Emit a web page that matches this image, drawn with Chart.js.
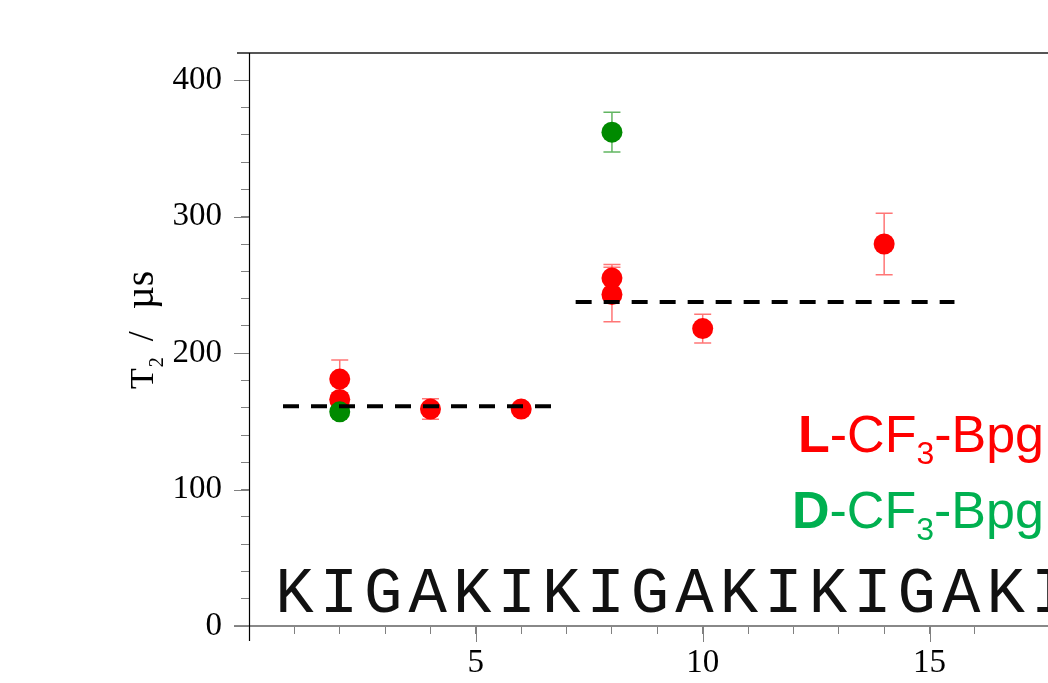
<!DOCTYPE html>
<html>
<head>
<meta charset="utf-8">
<script src="https://cdn.jsdelivr.net/npm/chart.js@4.4.0/dist/chart.umd.min.js"></script>
<style>
  html, body { margin: 0; padding: 0; background: #fff; overflow: hidden; }
  canvas { display: block; }
</style>
</head>
<body>
<canvas id="chart" width="1048" height="683"></canvas>
<script>
// T2 relaxation per labelled position
const lPos = [2, 2, 4, 6, 8, 8, 10, 14];
const lT2 = [181, 166, 159, 159, 255, 243, 218, 280];
const lErr = [14, 5, 7.5, 3, 10, 20, 10.5, 22.5];
const dPos = [2, 8];
const dT2 = [157, 362];
const dErr = [4, 14.5];

// dashed averages
const fit1X = [0.75, 6.7];
const fit1Y = [161, 161];
const fit2X = [7.2, 15.55];
const fit2Y = [237.5, 237.5];

// peptide sequence, written under the data starting at position 1
const sequence = ['K', 'I', 'G', 'A', 'K', 'I', 'K', 'I', 'G', 'A', 'K', 'I', 'K', 'I', 'G', 'A', 'K', 'I'];
const seqStep = 0.98; // letter pitch in position units

const xMajor = [5, 10, 15];
const yMajor = [0, 100, 200, 300, 400];

const colors = {
  red: '#ff0000',
  redErr: 'rgba(255, 60, 60, 0.7)',
  green: '#008a00',
  greenErr: 'rgba(30, 150, 30, 0.7)',
  greenText: '#00b050',
  tick: '#808080',
};

const serif = '"Liberation Serif", "Times New Roman", serif';
const sans = '"Liberation Sans", Arial, sans-serif';

function pts(xs, ys) { return xs.map((x, i) => ({ x, y: ys[i] })); }

function drawParts(ctx, parts, x, y) {
  let cx = x;
  for (const p of parts) {
    ctx.font = p.font;
    ctx.fillStyle = p.color;
    ctx.fillText(p.text, cx, y + (p.dy || 0));
    cx += ctx.measureText(p.text).width + (p.gap || 0);
  }
  return cx;
}

// only integer ticks get a mark
const tickColor = c => (c.tick && Number.isInteger(c.tick.value)) ? colors.tick : 'rgba(0,0,0,0)';

// error bars under the points
const errorBars = {
  id: 'errorBars',
  beforeDatasetsDraw(chart) {
    const { ctx, scales: { x, y } } = chart;
    chart.data.datasets.forEach(ds => {
      if (!ds.errors) return;
      ctx.save();
      ctx.strokeStyle = ds.errColor;
      ctx.lineWidth = 1.5;
      ds.data.forEach((p, i) => {
        const e = ds.errors[i];
        const px = x.getPixelForValue(p.x);
        const top = y.getPixelForValue(p.y + e);
        const bot = y.getPixelForValue(p.y - e);
        ctx.beginPath();
        ctx.moveTo(px, top); ctx.lineTo(px, bot);
        ctx.moveTo(px - 8.5, top); ctx.lineTo(px + 8.5, top);
        ctx.moveTo(px - 8.5, bot); ctx.lineTo(px + 8.5, bot);
        ctx.stroke();
      });
      ctx.restore();
    });
  }
};

// axes frame, major ticks, sequence, legend text, y title
const decor = {
  id: 'decor',
  beforeDatasetsDraw(chart) {
    const { ctx, chartArea: a, scales: { x, y } } = chart;
    const right = chart.width;
    ctx.save();
    // top frame line
    ctx.strokeStyle = '#555';
    ctx.lineWidth = 2;
    ctx.beginPath(); ctx.moveTo(a.left - 12, a.top); ctx.lineTo(right, a.top); ctx.stroke();
    // x axis
    ctx.strokeStyle = '#888';
    ctx.lineWidth = 2;
    ctx.beginPath(); ctx.moveTo(a.left - 15, a.bottom); ctx.lineTo(right, a.bottom); ctx.stroke();
    // y axis
    ctx.strokeStyle = '#000';
    ctx.lineWidth = 1.2;
    ctx.beginPath(); ctx.moveTo(a.left + 0.5, a.top); ctx.lineTo(a.left + 0.5, a.bottom + 15); ctx.stroke();
    // major ticks
    ctx.strokeStyle = colors.tick;
    ctx.lineWidth = 1;
    xMajor.forEach(v => {
      const px = Math.round(x.getPixelForValue(v)) + 0.5;
      ctx.beginPath(); ctx.moveTo(px, a.bottom); ctx.lineTo(px, a.bottom + 16); ctx.stroke();
    });
    yMajor.forEach(v => {
      const py = Math.round(y.getPixelForValue(v)) + 0.5;
      ctx.beginPath(); ctx.moveTo(a.left - 15, py); ctx.lineTo(a.left, py); ctx.stroke();
    });

    // sequence letters
    ctx.fillStyle = '#111';
    ctx.font = '64px "Liberation Mono", "Courier New", monospace';
    ctx.textAlign = 'center';
    ctx.textBaseline = 'alphabetic';
    sequence.forEach((ch, i) => {
      ctx.fillText(ch, x.getPixelForValue(1 + i * seqStep), a.bottom - 14);
    });

    // legend text
    ctx.textAlign = 'left';
    drawParts(ctx, [
      { text: 'L', font: 'bold 52px ' + sans, color: colors.red },
      { text: '-CF', font: '52px ' + sans, color: colors.red },
      { text: '3', font: '32px ' + sans, color: colors.red, dy: 12 },
      { text: '-Bpg', font: '52px ' + sans, color: colors.red },
    ], 798, 452);
    drawParts(ctx, [
      { text: 'D', font: 'bold 52px ' + sans, color: colors.greenText },
      { text: '-CF', font: '52px ' + sans, color: colors.greenText },
      { text: '3', font: '32px ' + sans, color: colors.greenText, dy: 12 },
      { text: '-Bpg', font: '52px ' + sans, color: colors.greenText },
    ], 792, 528);

    // y axis title, rotated (reads bottom to top)
    ctx.translate(153, 389);
    ctx.rotate(-Math.PI / 2);
    drawParts(ctx, [
      { text: 'T', font: '34px ' + serif, color: '#000', gap: 1 },
      { text: '2', font: '20px ' + serif, color: '#000', dy: 10, gap: 16 },
      { text: '/', font: '36px ' + serif, color: '#000', gap: 22 },
      { text: '\u00b5s', font: '40px ' + serif, color: '#000' },
    ], 0, 0);
    ctx.restore();
  }
};

function fixBox(size, horizontal) {
  return s => {
    if (horizontal) s.height = size; else s.width = size;
    s.paddingTop = 0; s.paddingBottom = 0; s.paddingLeft = 0; s.paddingRight = 0;
  };
}

new Chart(document.getElementById('chart'), {
  type: 'scatter',
  data: {
    datasets: [
      { label: 'avg 1', data: pts(fit1X, fit1Y), showLine: true, borderColor: '#000', borderWidth: 4,
        borderDash: [16, 12], pointRadius: 0, order: 0 },
      { label: 'avg 2', data: pts(fit2X, fit2Y), showLine: true, borderColor: '#000', borderWidth: 4,
        borderDash: [16, 12], pointRadius: 0, order: 0 },
      { label: 'D-CF3-Bpg', data: pts(dPos, dT2), errors: dErr, errColor: colors.greenErr,
        backgroundColor: colors.green, borderWidth: 0, pointRadius: 10.5, order: 1 },
      { label: 'L-CF3-Bpg', data: pts(lPos, lT2), errors: lErr, errColor: colors.redErr,
        backgroundColor: colors.red, borderWidth: 0, pointRadius: 10.5, order: 2 },
    ],
  },
  options: {
    responsive: false,
    animation: false,
    devicePixelRatio: 1,
    layout: { padding: { top: 53, left: 0, right: 0, bottom: 0 } },
    plugins: { legend: { display: false }, tooltip: { enabled: false } },
    scales: {
      x: {
        type: 'linear', min: 0, max: 17.38,
        afterFit: fixBox(57, true),
        border: { display: false },
        grid: { drawOnChartArea: false, tickLength: 8, tickColor: tickColor, color: tickColor },
        ticks: {
          stepSize: 1, autoSkip: false, maxRotation: 0, padding: 10,
          color: '#000', font: { family: serif, size: 33 },
          callback: v => (v > 0 && v % 5 === 0) ? String(v) : '',
        },
      },
      y: {
        min: 0, max: 420,
        afterFit: fixBox(249, false),
        border: { display: false },
        grid: { drawOnChartArea: false, tickLength: 8, tickColor: colors.tick, color: colors.tick },
        ticks: {
          stepSize: 20, autoSkip: false, padding: 19,
          color: '#000', font: { family: serif, size: 33 },
          callback: v => (v % 100 === 0) ? String(v) : '',
        },
      },
    },
  },
  plugins: [errorBars, decor],
});
</script>
</body>
</html>
